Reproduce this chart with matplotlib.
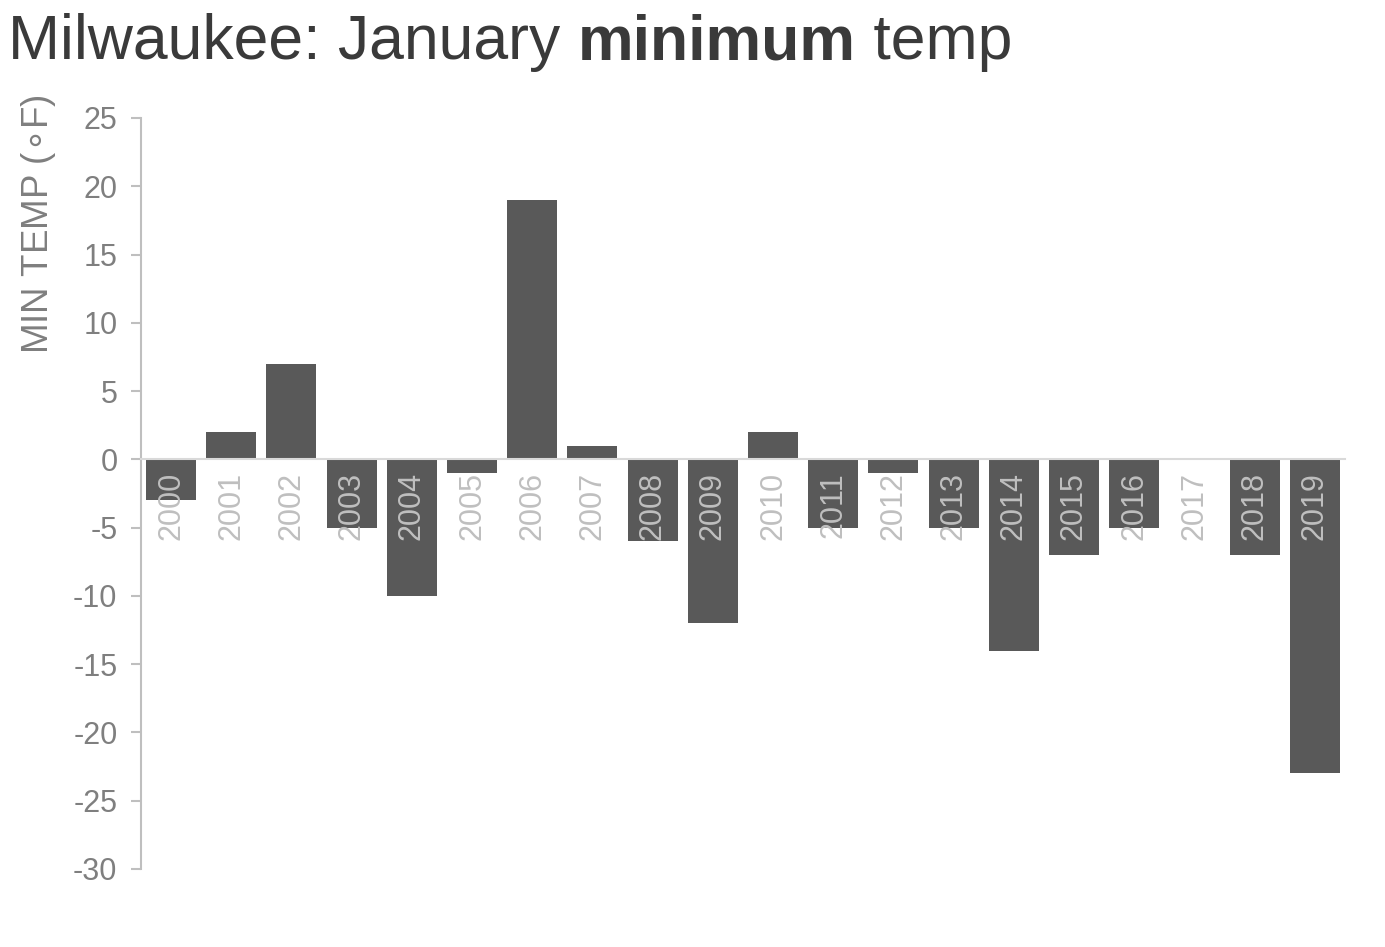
import numpy as np
import matplotlib
matplotlib.use("Agg")
import matplotlib.pyplot as plt

plt.rcParams['font.family'] = ['Liberation Sans', 'DejaVu Sans']

# January minimum temperature in Milwaukee
years = [str(y) for y in range(2000, 2020)]
min_temp = [-3, 2, 7, -5, -10, -1, 19, 1, -6, -12,
            2, -5, -1, -5, -14, -7, -5, 0, -7, -23]
yticks = [25, 20, 15, 10, 5, 0, -5, -10, -15, -20, -25, -30]

bar_color = '#595959'
axis_grey = '#BFBFBF'
label_grey = '#7F7F7F'

fig = plt.figure(figsize=(13.85, 9.47), dpi=100)
ax = fig.add_axes([0.1018, 0.0824, 0.8692, 0.793])

x = np.arange(len(years))
ax.bar(x, min_temp, width=0.83, color=bar_color, zorder=1)

ax.set_xlim(-0.5, len(years) - 0.5)
ax.set_ylim(-30, 25)
ax.set_yticks(yticks)
ax.set_yticklabels([str(t) for t in yticks])

# year labels hang just under the zero line
ax.spines['bottom'].set_position(('data', 0))
ax.spines['bottom'].set_color('#D9D9D9')
ax.spines['bottom'].set_linewidth(1.5)
ax.set_xticks(x)
ax.set_xticklabels(years, rotation=90, color=axis_grey, fontsize=22)
ax.tick_params(axis='x', length=0, pad=9)

ax.spines['top'].set_visible(False)
ax.spines['right'].set_visible(False)
ax.spines['left'].set_color(axis_grey)
ax.spines['left'].set_linewidth(1.5)
ax.tick_params(axis='y', colors=axis_grey, labelcolor=label_grey,
               labelsize=22, length=7, width=1.5, pad=10)

ax.set_ylabel(r'MIN TEMP ($\circ$F)', color=label_grey, fontsize=26.5)
ax.yaxis.set_label_coords(-0.069, 1.031)
ax.yaxis.label.set_va('bottom')
ax.yaxis.label.set_ha('right')

# title with a bold word in the middle
parts = [('Milwaukee: January ', 'normal'), ('minimum', 'bold'), (' temp', 'normal')]
fig.canvas.draw()
renderer = fig.canvas.get_renderer()
xpos = 8 / 1385
for txt, weight in parts:
    t = fig.text(xpos, 1 - 59 / 947, txt, fontsize=45, fontweight=weight,
                 color='#3A3A3A', ha='left', va='baseline')
    bb = t.get_window_extent(renderer=renderer)
    xpos += bb.width / fig.bbox.width

fig.savefig('out.png', dpi=100)
